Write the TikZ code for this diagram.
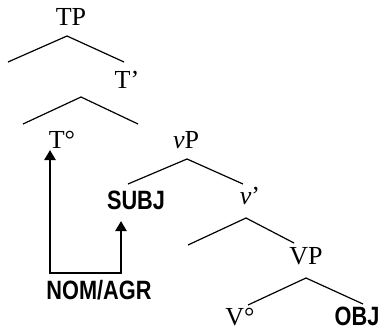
\documentclass[tikz,border=0pt]{standalone}
\usepackage{fontspec}
\setmainfont{Liberation Serif}
\newfontfamily\featfont[FakeStretch=0.82]{Liberation Sans}
\usetikzlibrary{arrows.meta,calc}

\tikzset{
  cat/.style={anchor=base, inner sep=0pt, font=\fontsize{26}{28}\selectfont},
  feat/.style={anchor=base, inner sep=0pt, font=\featfont\bfseries\fontsize{26.5}{28}\selectfont},
  branch/.style={line width=1.2pt},
  agree/.style={line width=2.8pt, {Triangle[width=11pt,length=10pt]}-{Triangle[width=11pt,length=10pt]}}
}

\begin{document}
\begin{tikzpicture}[x=1pt, y=-1pt]

  %% Background
  \useasboundingbox (0,0) rectangle (382,332);

  % Kategorien
  \node[cat]  (tp)   at (71,25)   {TP};
  \node[cat]  (tbar) at (127,88)  {T’};
  \node[cat]  (tnull) at (62,148) {T°};
  \node[cat]  (vp)   at (186,148) {\textit{v}P};
  \node[cat]  (vbar) at (250,204) {\textit{v}’};
  \node[cat]  (VP)   at (306,264) {VP};
  \node[cat]  (vnull) at (240,325) {V°};

  % Merkmale
  \node[feat] (subj) at (136,209) {SUBJ};
  \node[feat] (obj)  at (357,325) {OBJ};
  \node[feat] (nom)  at (99,299)  {NOM/AGR};

  % Verzweigungen
  \coordinate (tpTop)   at (67,36);
  \coordinate (tbarTop) at (81,97);
  \coordinate (vpTop)   at (187,159);
  \coordinate (vbarTop) at (246,218);
  \coordinate (VPTop)   at (306,278);

  \draw[branch] (8,62)    -- (tpTop)   -- (124,62);
  \draw[branch] (23,124)  -- (tbarTop) -- (138,124);
  \draw[branch] (128,184) -- (vpTop)   -- (243,184);
  \draw[branch] (188,245) -- (vbarTop) -- (294,243);
  \draw[branch] (248,305) -- (VPTop)   -- (363,304);

  % Kongruenz-Pfeile
  \coordinate (ttip) at (50,150);
  \coordinate (stip) at (121,221);
  \coordinate (bend) at (0,273);
  \draw[agree] (ttip) -- (ttip |- bend) -| (stip);

\end{tikzpicture}
\end{document}
